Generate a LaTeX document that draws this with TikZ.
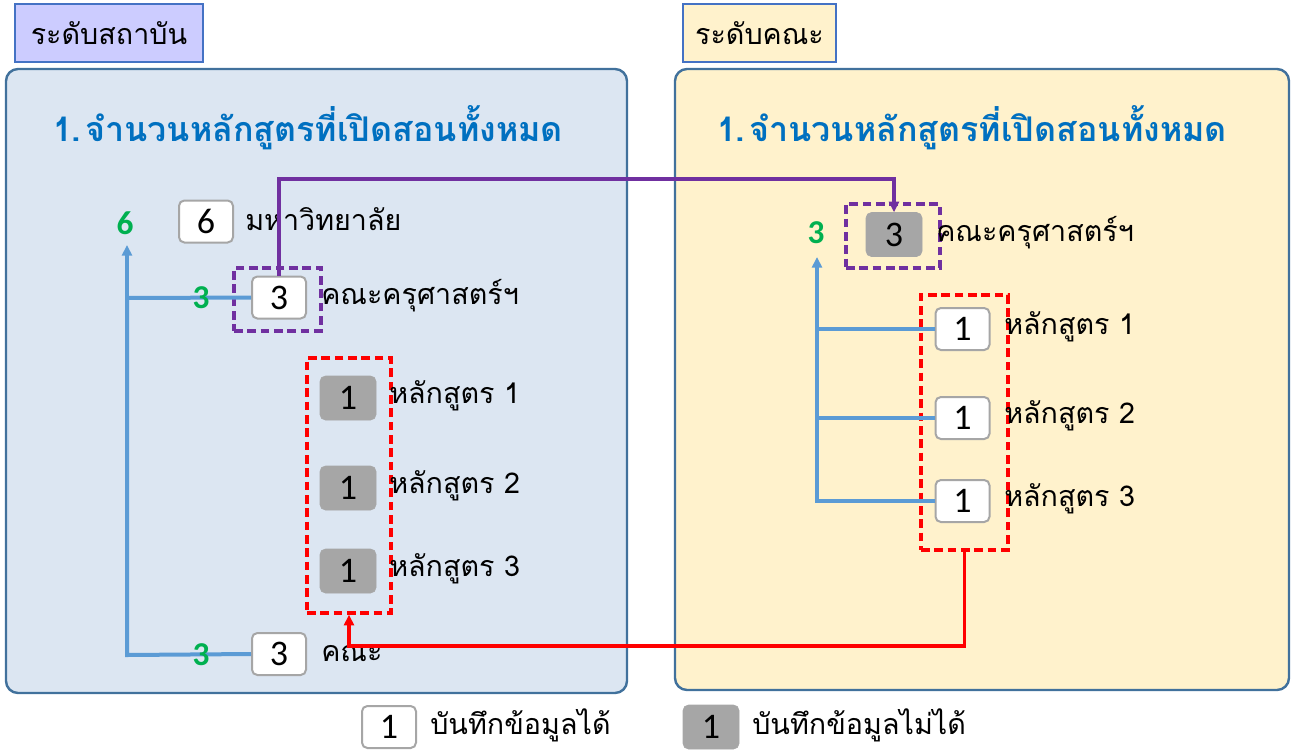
\documentclass[tikz,border=0pt]{standalone}
\usepackage{fontspec}
\setmainfont{Carlito}
\newfontfamily\thai[Script=Thai]{Loma}
\usetikzlibrary{arrows.meta}
\definecolor{panelL}{HTML}{DCE6F2}
\definecolor{panelR}{HTML}{FFF2CC}
\definecolor{panelB}{HTML}{41719C}
\definecolor{labB}{HTML}{4472C4}
\definecolor{labL}{HTML}{CCCCFF}
\definecolor{titc}{HTML}{0070C0}
\definecolor{grayf}{HTML}{A6A6A6}
\definecolor{wbord}{HTML}{A6A6A6}
\definecolor{redl}{HTML}{FF0000}
\definecolor{purp}{HTML}{7030A0}
\definecolor{grn}{HTML}{00B050}
\definecolor{bluel}{HTML}{5B9BD5}
\tikzset{
  panel/.style={draw=panelB, line width=1.8pt, rounded corners=9pt},
  lab/.style={draw=labB, line width=1.8pt, inner sep=0pt, font=\thai\fontsize{21.5}{24}\selectfont},
  wbox/.style={draw=wbord, line width=1.5pt, fill=white, rounded corners=4pt, minimum width=40.5pt, minimum height=31.5pt, inner sep=0pt, font=\fontsize{27}{30}\selectfont},
  gbox/.style={draw=grayf, fill=grayf, rounded corners=4pt, minimum width=42pt, minimum height=33pt, inner sep=0pt, font=\fontsize{27}{30}\selectfont},
  ttl/.style={font=\thai\bfseries\fontsize{25.5}{29}\selectfont, text=titc},
  txt/.style={anchor=west, inner sep=0pt, font=\thai\fontsize{21.5}{24}\selectfont},
  gnum/.style={text=grn, font=\bfseries\fontsize{25}{28}\selectfont, inner sep=0pt},
  pdash/.style={draw=purp, line width=2.6pt, dash pattern=on 6.5pt off 3.5pt},
  rdash/.style={draw=redl, line width=2.6pt, dash pattern=on 6.5pt off 3.5pt},
  bline/.style={draw=bluel, line width=3pt},
  tip/.style={-{Triangle[length=8pt,width=7.5pt]}}
}
\begin{document}
\begin{tikzpicture}[x=0.75pt,y=-0.75pt]
\useasboundingbox (0,0) rectangle (1291,750);
% panels
\node[panel, fill=panelL, minimum width=465.75pt, minimum height=468pt] (pL) at (316.5,381) {};
\node[panel, fill=panelR, minimum width=460.5pt, minimum height=465.75pt] (pR) at (982,379.5) {};
\node[lab, fill=labL, minimum width=141pt, minimum height=43.5pt] (labL) at (109,33) {ระดับสถาบัน};
\node[lab, fill=panelR, minimum width=114.75pt, minimum height=43.5pt] (labR) at (759.5,33) {ระดับคณะ};
\node[ttl] (tL) at (308,128) {1.\hspace{0.12em}จำนวนหลักสูตรที่เปิดสอนทั้งหมด};
\node[ttl] (tR) at (972,128) {1.\hspace{0.12em}จำนวนหลักสูตรที่เปิดสอนทั้งหมด};
% dashed groups
\node[pdash, minimum width=65.25pt, minimum height=47.25pt] (pgL) at (277.5,299.5) {};
\node[pdash, minimum width=70.5pt, minimum height=48pt] (pgR) at (893,236) {};
\node[rdash, minimum width=63pt, minimum height=191.25pt] (rgL) at (349,485.5) {};
\node[rdash, minimum width=65.25pt, minimum height=191.25pt] (rgR) at (964.5,422.5) {};
% junction coordinates
\coordinate (lj0) at (127,655);
\coordinate (lj1) at (127,298);
\coordinate (lj2) at (127,245);
\coordinate (rj0) at (817,501);
\coordinate (rj1) at (817,418);
\coordinate (rj2) at (817,329);
\coordinate (rj3) at (817,257);
% left boxes
\node[wbox] (lb6) at (206,221.5) {6};
\node[wbox] (lb3) at (279,297.5) {3};
\node[wbox] (lbk) at (279,654) {3};
\node[gbox] (lc1) at (348,398) {1};
\node[gbox] (lc2) at (348,488) {1};
\node[gbox] (lc3) at (348,571) {1};
% right boxes
\node[gbox] (rb3) at (894,234.5) {3};
\node[wbox] (rc1) at (962.5,329) {1};
\node[wbox] (rc2) at (962.5,418) {1};
\node[wbox] (rc3) at (962.5,501) {1};
% blue lines
\draw[bline] (lbk.west) -- (lj0) -- (lj1);
\draw[bline, tip] (lj1) -- (lj2);
\draw[bline] (lb3.west) -- (lj1);
\draw[bline] (rc3.west) -- (rj0) -- (rj1) -- (rj2);
\draw[bline, tip] (rj2) -- (rj3);
\draw[bline] (rc2.west) -- (rj1);
\draw[bline] (rc1.west) -- (rj2);
% green numbers
\node[gnum] (g6) at (125,223) {6};
\node[gnum] (g3a) at (201,298) {3};
\node[gnum] (g3b) at (201,655) {3};
\node[gnum] (g3c) at (816,233) {3};
% labels
\node[txt] (tx1) at (245,219) {มหาวิทยาลัย};
\node[txt] (tx2) at (321,296) {คณะครุศาสตร์ฯ};
\node[txt] (tx3) at (389,396) {หลักสูตร 1};
\node[txt] (tx4) at (389,486) {หลักสูตร 2};
\node[txt] (tx5) at (389,569) {หลักสูตร 3};
\node[txt] (tx6) at (321,654) {คณะ};
\node[txt] (tx7) at (936,233) {คณะครุศาสตร์ฯ};
\node[txt] (tx8) at (1004,327) {หลักสูตร 1};
\node[txt] (tx9) at (1004,416) {หลักสูตร 2};
\node[txt] (tx10) at (1004,499) {หลักสูตร 3};
% connectors
\coordinate (pc1) at (279,179);
\coordinate (pc2) at (894,179);
\draw[purp, line width=2.8pt, tip] (lb3.north) -- (pc1) -- (pc2) -- (rb3.north);
\coordinate (rc1c) at (964.5,646);
\coordinate (rc2c) at (349,646);
\draw[redl, line width=2.8pt, tip] (rgR.south) -- (rc1c) -- (rc2c) -- (rgL.south);
% legend
\node[wbox] (lg1) at (389,727) {1};
\node[txt] (lgt1) at (430,725) {บันทึกข้อมูลได้};
\node[gbox] (lg2) at (711,727) {1};
\node[txt] (lgt2) at (752,725) {บันทึกข้อมูลไม่ได้};
\end{tikzpicture}
\end{document}
